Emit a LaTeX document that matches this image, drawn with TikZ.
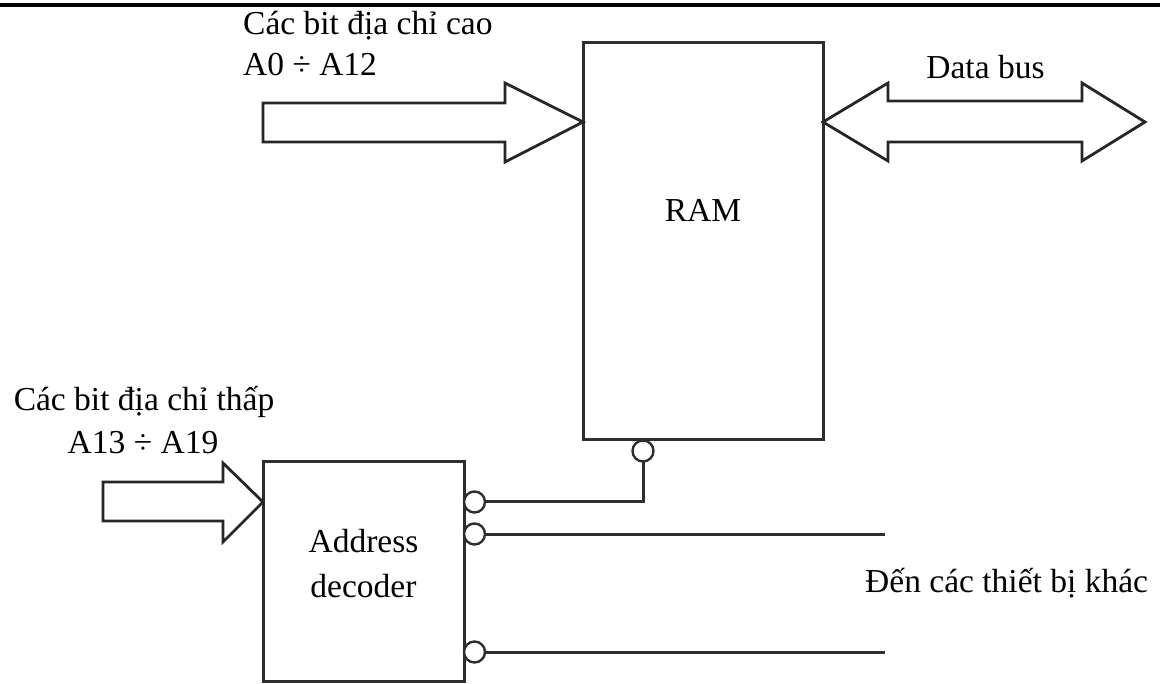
\documentclass[tikz,border=0pt]{standalone}
\usepackage{fontspec}
\setmainfont{Liberation Serif}
\usetikzlibrary{calc}

\begin{document}
\begin{tikzpicture}[x=1pt,y=-1pt,
    wire/.style={line width=3pt, draw=black!82},
    block/.style={draw=black!82, line width=3pt, fill=white, inner sep=0pt, outer sep=0pt},
    bubble/.style={circle, draw=black!82, line width=2.4pt, fill=white, minimum size=21pt, inner sep=0pt, outer sep=0pt},
    busarrow/.style={draw=black!85, line width=2.8pt, fill=white, line join=miter},
    lbl/.style={font=\fontsize{33.5}{40}\selectfont, inner sep=0pt, text=black}]
  \useasboundingbox (0,0) rectangle (1160,684);

  % rule along the top edge
  \draw[line width=3.5pt] (0,5) -- (1160,5);

  % blocks
  \node[block, minimum width=240pt, minimum height=397pt] (ram) at (703,241.5) {};
  \node[block, minimum width=201pt, minimum height=219pt] (dec) at (363.5,571.5) {};
  \node[lbl, anchor=base] (ramtxt) at (703,222) {RAM};
  \node[lbl, anchor=base] (dectxtA) at (363.5,552) {Address};
  \node[lbl, anchor=base] (dectxtB) at (363.5,597) {decoder};

  % active-low select bubbles
  \node[bubble] (rb) at (643,451) {};
  \node[bubble] (b1) at (474.5,502) {};
  \node[bubble] (b2) at (474.5,534) {};
  \node[bubble] (b3) at (474.5,652) {};

  % chip-select lines
  \coordinate (e2) at (885,534);
  \coordinate (e3) at (885,652);
  \draw[wire] (b1.east) -| (rb.south);
  \draw[wire] (b2.east) -- (e2);
  \draw[wire] (b3.east) -- (e3);
  \node[lbl, anchor=base west] (other) at (865,592) {Đến các thiết bị khác};

  % high address bits into the RAM
  \coordinate (hi) at (ram.west |- 0,122);
  \draw[busarrow] (hi) -- ++(-78,-39) -- ++(0,20) -- ++(-242,0) -- ++(0,39)
        -- ++(242,0) -- ++(0,20) -- cycle;
  \node[lbl, anchor=base west] (hitxtA) at (243,35) {Các bit địa chỉ cao};
  \node[lbl, anchor=base west] (hitxtB) at (243,76) {A0 ÷ A12};

  % data bus
  \coordinate (db) at (ram.east |- 0,122);
  \draw[busarrow] (db) -- ++(65,-39) -- ++(0,18) -- ++(194,0) -- ++(0,-18)
        -- ++(63,39) -- ++(-63,39) -- ++(0,-19) -- ++(-194,0) -- ++(0,19) -- cycle;
  \node[lbl, anchor=base] (dbtxt) at (985.5,79) {Data bus};

  % low address bits into the decoder
  \coordinate (lo) at (dec.west |- 0,502);
  \draw[busarrow] (lo) -- ++(-40,-39) -- ++(0,19) -- ++(-120,0) -- ++(0,39)
        -- ++(120,0) -- ++(0,21) -- cycle;
  \node[lbl, anchor=base] (lotxtA) at (144,411) {Các bit địa chỉ thấp};
  \node[lbl, anchor=base] (lotxtB) at (143,454) {A13 ÷ A19};
\end{tikzpicture}
\end{document}
